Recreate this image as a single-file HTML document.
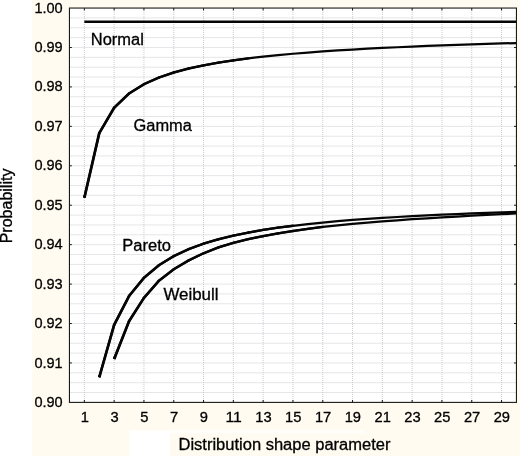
<!DOCTYPE html>
<html lang="en"><head><meta charset="utf-8"><title>Probability vs distribution shape parameter</title>
<style>html,body{margin:0;padding:0;background:#fff}svg{display:block}text{font-family:"Liberation Sans",Arial,Helvetica,sans-serif;fill:#000;stroke:#000;stroke-width:0.3px}</style></head><body>
<svg width="520" height="456" viewBox="0 0 520 456">
<rect x="0" y="0" width="520" height="456" fill="#fff"/>
<rect x="32" y="0" width="488" height="456" fill="#FFFBF0"/>
<rect x="129.5" y="430.3" width="40.5" height="25.7" fill="#fff"/>
<rect x="170" y="430.3" width="194.5" height="3.2" fill="#fffefb"/>
<rect x="69.45" y="8.05" width="447.00" height="394.35" fill="#fff"/>
<g stroke="#CCCCD0" stroke-width="1" stroke-dasharray="1 1"><line x1="69.45" x2="516.45" y1="392.54" y2="392.54"/><line x1="69.45" x2="516.45" y1="372.82" y2="372.82"/><line x1="69.45" x2="516.45" y1="353.11" y2="353.11"/><line x1="69.45" x2="516.45" y1="333.39" y2="333.39"/><line x1="69.45" x2="516.45" y1="313.67" y2="313.67"/><line x1="69.45" x2="516.45" y1="293.95" y2="293.95"/><line x1="69.45" x2="516.45" y1="274.24" y2="274.24"/><line x1="69.45" x2="516.45" y1="254.52" y2="254.52"/><line x1="69.45" x2="516.45" y1="234.80" y2="234.80"/><line x1="69.45" x2="516.45" y1="215.08" y2="215.08"/><line x1="69.45" x2="516.45" y1="195.37" y2="195.37"/><line x1="69.45" x2="516.45" y1="175.65" y2="175.65"/><line x1="69.45" x2="516.45" y1="155.93" y2="155.93"/><line x1="69.45" x2="516.45" y1="136.21" y2="136.21"/><line x1="69.45" x2="516.45" y1="116.50" y2="116.50"/><line x1="69.45" x2="516.45" y1="96.78" y2="96.78"/><line x1="69.45" x2="516.45" y1="77.06" y2="77.06"/><line x1="69.45" x2="516.45" y1="57.34" y2="57.34"/><line x1="69.45" x2="516.45" y1="37.63" y2="37.63"/><line x1="69.45" x2="516.45" y1="17.91" y2="17.91"/></g>
<g stroke="#C8C8D2" stroke-width="1" stroke-dasharray="1 1"><line x1="84.35" x2="84.35" y1="8.05" y2="402.40"/><line x1="114.15" x2="114.15" y1="8.05" y2="402.40"/><line x1="143.95" x2="143.95" y1="8.05" y2="402.40"/><line x1="173.75" x2="173.75" y1="8.05" y2="402.40"/><line x1="203.55" x2="203.55" y1="8.05" y2="402.40"/><line x1="233.35" x2="233.35" y1="8.05" y2="402.40"/><line x1="263.15" x2="263.15" y1="8.05" y2="402.40"/><line x1="292.95" x2="292.95" y1="8.05" y2="402.40"/><line x1="322.75" x2="322.75" y1="8.05" y2="402.40"/><line x1="352.55" x2="352.55" y1="8.05" y2="402.40"/><line x1="382.35" x2="382.35" y1="8.05" y2="402.40"/><line x1="412.15" x2="412.15" y1="8.05" y2="402.40"/><line x1="441.95" x2="441.95" y1="8.05" y2="402.40"/><line x1="471.75" x2="471.75" y1="8.05" y2="402.40"/><line x1="501.55" x2="501.55" y1="8.05" y2="402.40"/></g>
<g stroke="#CCCCD0" stroke-width="1" stroke-dasharray="1 1"><line x1="69.45" x2="516.45" y1="382.68" y2="382.68"/><line x1="69.45" x2="516.45" y1="362.96" y2="362.96"/><line x1="69.45" x2="516.45" y1="343.25" y2="343.25"/><line x1="69.45" x2="516.45" y1="323.53" y2="323.53"/><line x1="69.45" x2="516.45" y1="303.81" y2="303.81"/><line x1="69.45" x2="516.45" y1="284.09" y2="284.09"/><line x1="69.45" x2="516.45" y1="264.38" y2="264.38"/><line x1="69.45" x2="516.45" y1="244.66" y2="244.66"/><line x1="69.45" x2="516.45" y1="224.94" y2="224.94"/><line x1="69.45" x2="516.45" y1="205.22" y2="205.22"/><line x1="69.45" x2="516.45" y1="185.51" y2="185.51"/><line x1="69.45" x2="516.45" y1="165.79" y2="165.79"/><line x1="69.45" x2="516.45" y1="146.07" y2="146.07"/><line x1="69.45" x2="516.45" y1="126.36" y2="126.36"/><line x1="69.45" x2="516.45" y1="106.64" y2="106.64"/><line x1="69.45" x2="516.45" y1="86.92" y2="86.92"/><line x1="69.45" x2="516.45" y1="67.20" y2="67.20"/><line x1="69.45" x2="516.45" y1="47.49" y2="47.49"/><line x1="69.45" x2="516.45" y1="27.77" y2="27.77"/></g>
<g stroke="#1a1a1a" stroke-width="1"><line x1="69.45" x2="71.85" y1="362.96" y2="362.96"/><line x1="514.05" x2="516.45" y1="362.96" y2="362.96"/><line x1="69.45" x2="71.85" y1="323.53" y2="323.53"/><line x1="514.05" x2="516.45" y1="323.53" y2="323.53"/><line x1="69.45" x2="71.85" y1="284.09" y2="284.09"/><line x1="514.05" x2="516.45" y1="284.09" y2="284.09"/><line x1="69.45" x2="71.85" y1="244.66" y2="244.66"/><line x1="514.05" x2="516.45" y1="244.66" y2="244.66"/><line x1="69.45" x2="71.85" y1="205.22" y2="205.22"/><line x1="514.05" x2="516.45" y1="205.22" y2="205.22"/><line x1="69.45" x2="71.85" y1="165.79" y2="165.79"/><line x1="514.05" x2="516.45" y1="165.79" y2="165.79"/><line x1="69.45" x2="71.85" y1="126.36" y2="126.36"/><line x1="514.05" x2="516.45" y1="126.36" y2="126.36"/><line x1="69.45" x2="71.85" y1="86.92" y2="86.92"/><line x1="514.05" x2="516.45" y1="86.92" y2="86.92"/><line x1="69.45" x2="71.85" y1="47.49" y2="47.49"/><line x1="514.05" x2="516.45" y1="47.49" y2="47.49"/><line x1="84.35" x2="84.35" y1="400.00" y2="402.40"/><line x1="84.35" x2="84.35" y1="8.05" y2="10.45"/><line x1="114.15" x2="114.15" y1="400.00" y2="402.40"/><line x1="114.15" x2="114.15" y1="8.05" y2="10.45"/><line x1="143.95" x2="143.95" y1="400.00" y2="402.40"/><line x1="143.95" x2="143.95" y1="8.05" y2="10.45"/><line x1="173.75" x2="173.75" y1="400.00" y2="402.40"/><line x1="173.75" x2="173.75" y1="8.05" y2="10.45"/><line x1="203.55" x2="203.55" y1="400.00" y2="402.40"/><line x1="203.55" x2="203.55" y1="8.05" y2="10.45"/><line x1="233.35" x2="233.35" y1="400.00" y2="402.40"/><line x1="233.35" x2="233.35" y1="8.05" y2="10.45"/><line x1="263.15" x2="263.15" y1="400.00" y2="402.40"/><line x1="263.15" x2="263.15" y1="8.05" y2="10.45"/><line x1="292.95" x2="292.95" y1="400.00" y2="402.40"/><line x1="292.95" x2="292.95" y1="8.05" y2="10.45"/><line x1="322.75" x2="322.75" y1="400.00" y2="402.40"/><line x1="322.75" x2="322.75" y1="8.05" y2="10.45"/><line x1="352.55" x2="352.55" y1="400.00" y2="402.40"/><line x1="352.55" x2="352.55" y1="8.05" y2="10.45"/><line x1="382.35" x2="382.35" y1="400.00" y2="402.40"/><line x1="382.35" x2="382.35" y1="8.05" y2="10.45"/><line x1="412.15" x2="412.15" y1="400.00" y2="402.40"/><line x1="412.15" x2="412.15" y1="8.05" y2="10.45"/><line x1="441.95" x2="441.95" y1="400.00" y2="402.40"/><line x1="441.95" x2="441.95" y1="8.05" y2="10.45"/><line x1="471.75" x2="471.75" y1="400.00" y2="402.40"/><line x1="471.75" x2="471.75" y1="8.05" y2="10.45"/><line x1="501.55" x2="501.55" y1="400.00" y2="402.40"/><line x1="501.55" x2="501.55" y1="8.05" y2="10.45"/></g>
<g fill="none" stroke="#050505" stroke-linejoin="round"><polyline stroke-width="2.55" points="84.35,21.81 516.45,21.81"/><polyline stroke-width="2.25" points="84.35,197.78 99.25,133.14 114.15,107.74 129.05,93.51 143.95,84.20 158.85,77.54 173.75,72.50 188.65,68.52 203.55,65.28 218.45,62.58 233.35,60.30 248.25,58.33 263.15,56.61 278.05,55.09 292.95,53.75 307.85,52.54 322.75,51.45 337.65,50.46 352.55,49.55 367.45,48.72 382.35,47.96 397.25,47.25 412.15,46.59 427.05,45.98 441.95,45.41 456.85,44.87 471.75,44.37 486.65,43.89 501.55,43.45 516.45,43.02"/><line stroke-width="2.74" x1="84.35" y1="197.78" x2="84.88" y2="195.47"/><line stroke-width="2.74" stroke-linecap="round" x1="84.66" y1="196.45" x2="99.25" y2="133.14"/><line stroke-width="2.68" stroke-linecap="round" x1="99.25" y1="133.14" x2="114.15" y2="107.74"/><line stroke-width="2.60" stroke-linecap="round" x1="114.15" y1="107.74" x2="129.05" y2="93.51"/><line stroke-width="2.51" stroke-linecap="round" x1="129.05" y1="93.51" x2="143.95" y2="84.20"/><line stroke-width="2.45" stroke-linecap="round" x1="143.95" y1="84.20" x2="158.85" y2="77.54"/><line stroke-width="2.41" stroke-linecap="round" x1="158.85" y1="77.54" x2="173.75" y2="72.50"/><line stroke-width="2.38" stroke-linecap="round" x1="173.75" y1="72.50" x2="188.65" y2="68.52"/><line stroke-width="2.36" stroke-linecap="round" x1="188.65" y1="68.52" x2="203.55" y2="65.28"/><line stroke-width="2.34" stroke-linecap="round" x1="203.55" y1="65.28" x2="218.45" y2="62.58"/><line stroke-width="2.33" stroke-linecap="round" x1="218.45" y1="62.58" x2="233.35" y2="60.30"/><line stroke-width="2.32" stroke-linecap="round" x1="233.35" y1="60.30" x2="248.25" y2="58.33"/><polyline stroke-width="2.25" points="99.25,377.31 114.15,324.86 129.05,296.02 143.95,277.81 158.85,265.28 173.75,256.14 188.65,249.17 203.55,243.69 218.45,239.26 233.35,235.61 248.25,232.55 263.15,229.95 278.05,227.71 292.95,225.76 307.85,224.05 322.75,222.54 337.65,221.19 352.55,219.98 367.45,218.89 382.35,217.90 397.25,217.00 412.15,216.18 427.05,215.42 441.95,214.73 456.85,214.08 471.75,213.49 486.65,212.93 501.55,212.42 516.45,211.93"/><line stroke-width="2.73" x1="99.25" y1="377.31" x2="99.90" y2="375.03"/><line stroke-width="2.73" stroke-linecap="round" x1="99.62" y1="376.00" x2="114.15" y2="324.86"/><line stroke-width="2.69" stroke-linecap="round" x1="114.15" y1="324.86" x2="129.05" y2="296.02"/><line stroke-width="2.64" stroke-linecap="round" x1="129.05" y1="296.02" x2="143.95" y2="277.81"/><line stroke-width="2.57" stroke-linecap="round" x1="143.95" y1="277.81" x2="158.85" y2="265.28"/><line stroke-width="2.51" stroke-linecap="round" x1="158.85" y1="265.28" x2="173.75" y2="256.14"/><line stroke-width="2.46" stroke-linecap="round" x1="173.75" y1="256.14" x2="188.65" y2="249.17"/><line stroke-width="2.42" stroke-linecap="round" x1="188.65" y1="249.17" x2="203.55" y2="243.69"/><line stroke-width="2.39" stroke-linecap="round" x1="203.55" y1="243.69" x2="218.45" y2="239.26"/><line stroke-width="2.37" stroke-linecap="round" x1="218.45" y1="239.26" x2="233.35" y2="235.61"/><line stroke-width="2.35" stroke-linecap="round" x1="233.35" y1="235.61" x2="248.25" y2="232.55"/><line stroke-width="2.34" stroke-linecap="round" x1="248.25" y1="232.55" x2="263.15" y2="229.95"/><line stroke-width="2.32" stroke-linecap="round" x1="263.15" y1="229.95" x2="278.05" y2="227.71"/><line stroke-width="2.31" stroke-linecap="round" x1="278.05" y1="227.71" x2="292.95" y2="225.76"/><polyline stroke-width="2.25" points="114.15,359.02 129.05,321.16 143.95,297.90 158.85,280.78 173.75,269.27 188.65,260.43 203.55,253.26 218.45,247.38 233.35,242.85 248.25,239.14 263.15,236.10 278.05,233.36 292.95,231.01 307.85,228.85 322.75,226.93 337.65,225.27 352.55,223.78 367.45,222.52 382.35,221.36 397.25,220.26 412.15,219.24 427.05,218.27 441.95,217.38 456.85,216.53 471.75,215.74 486.65,214.93 501.55,214.17 516.45,213.48"/><line stroke-width="2.72" x1="114.15" y1="359.02" x2="115.01" y2="356.83"/><line stroke-width="2.72" stroke-linecap="round" x1="114.65" y1="357.76" x2="129.05" y2="321.16"/><line stroke-width="2.67" stroke-linecap="round" x1="129.05" y1="321.16" x2="143.95" y2="297.90"/><line stroke-width="2.63" stroke-linecap="round" x1="143.95" y1="297.90" x2="158.85" y2="280.78"/><line stroke-width="2.56" stroke-linecap="round" x1="158.85" y1="280.78" x2="173.75" y2="269.27"/><line stroke-width="2.50" stroke-linecap="round" x1="173.75" y1="269.27" x2="188.65" y2="260.43"/><line stroke-width="2.47" stroke-linecap="round" x1="188.65" y1="260.43" x2="203.55" y2="253.26"/><line stroke-width="2.43" stroke-linecap="round" x1="203.55" y1="253.26" x2="218.45" y2="247.38"/><line stroke-width="2.40" stroke-linecap="round" x1="218.45" y1="247.38" x2="233.35" y2="242.85"/><line stroke-width="2.37" stroke-linecap="round" x1="233.35" y1="242.85" x2="248.25" y2="239.14"/><line stroke-width="2.35" stroke-linecap="round" x1="248.25" y1="239.14" x2="263.15" y2="236.10"/><line stroke-width="2.34" stroke-linecap="round" x1="263.15" y1="236.10" x2="278.05" y2="233.36"/><line stroke-width="2.33" stroke-linecap="round" x1="278.05" y1="233.36" x2="292.95" y2="231.01"/><line stroke-width="2.32" stroke-linecap="round" x1="292.95" y1="231.01" x2="307.85" y2="228.85"/><line stroke-width="2.31" stroke-linecap="round" x1="307.85" y1="228.85" x2="322.75" y2="226.93"/></g>
<rect x="69.45" y="8.05" width="447.00" height="394.35" fill="none" stroke="#1a1a1a" stroke-width="1.1"/>
<text x="62.7" y="406.95" font-size="15" text-anchor="end" textLength="28.3" lengthAdjust="spacingAndGlyphs">0.90</text>
<text x="62.7" y="367.51" font-size="15" text-anchor="end" textLength="28.3" lengthAdjust="spacingAndGlyphs">0.91</text>
<text x="62.7" y="328.08" font-size="15" text-anchor="end" textLength="28.3" lengthAdjust="spacingAndGlyphs">0.92</text>
<text x="62.7" y="288.64" font-size="15" text-anchor="end" textLength="28.3" lengthAdjust="spacingAndGlyphs">0.93</text>
<text x="62.7" y="249.21" font-size="15" text-anchor="end" textLength="28.3" lengthAdjust="spacingAndGlyphs">0.94</text>
<text x="62.7" y="209.77" font-size="15" text-anchor="end" textLength="28.3" lengthAdjust="spacingAndGlyphs">0.95</text>
<text x="62.7" y="170.34" font-size="15" text-anchor="end" textLength="28.3" lengthAdjust="spacingAndGlyphs">0.96</text>
<text x="62.7" y="130.91" font-size="15" text-anchor="end" textLength="28.3" lengthAdjust="spacingAndGlyphs">0.97</text>
<text x="62.7" y="91.47" font-size="15" text-anchor="end" textLength="28.3" lengthAdjust="spacingAndGlyphs">0.98</text>
<text x="62.7" y="52.04" font-size="15" text-anchor="end" textLength="28.3" lengthAdjust="spacingAndGlyphs">0.99</text>
<text x="62.7" y="12.60" font-size="15" text-anchor="end" textLength="28.3" lengthAdjust="spacingAndGlyphs">1.00</text>
<text x="84.75" y="421.6" font-size="15" text-anchor="middle" textLength="8.17" lengthAdjust="spacingAndGlyphs">1</text>
<text x="114.55" y="421.6" font-size="15" text-anchor="middle" textLength="8.17" lengthAdjust="spacingAndGlyphs">3</text>
<text x="144.35" y="421.6" font-size="15" text-anchor="middle" textLength="8.17" lengthAdjust="spacingAndGlyphs">5</text>
<text x="174.15" y="421.6" font-size="15" text-anchor="middle" textLength="8.17" lengthAdjust="spacingAndGlyphs">7</text>
<text x="203.95" y="421.6" font-size="15" text-anchor="middle" textLength="8.17" lengthAdjust="spacingAndGlyphs">9</text>
<text x="233.65" y="421.6" font-size="15" text-anchor="middle" textLength="16.35" lengthAdjust="spacingAndGlyphs">11</text>
<text x="263.45" y="421.6" font-size="15" text-anchor="middle" textLength="16.35" lengthAdjust="spacingAndGlyphs">13</text>
<text x="293.25" y="421.6" font-size="15" text-anchor="middle" textLength="16.35" lengthAdjust="spacingAndGlyphs">15</text>
<text x="323.05" y="421.6" font-size="15" text-anchor="middle" textLength="16.35" lengthAdjust="spacingAndGlyphs">17</text>
<text x="352.85" y="421.6" font-size="15" text-anchor="middle" textLength="16.35" lengthAdjust="spacingAndGlyphs">19</text>
<text x="382.65" y="421.6" font-size="15" text-anchor="middle" textLength="16.35" lengthAdjust="spacingAndGlyphs">21</text>
<text x="412.45" y="421.6" font-size="15" text-anchor="middle" textLength="16.35" lengthAdjust="spacingAndGlyphs">23</text>
<text x="442.25" y="421.6" font-size="15" text-anchor="middle" textLength="16.35" lengthAdjust="spacingAndGlyphs">25</text>
<text x="472.05" y="421.6" font-size="15" text-anchor="middle" textLength="16.35" lengthAdjust="spacingAndGlyphs">27</text>
<text x="501.85" y="421.6" font-size="15" text-anchor="middle" textLength="16.35" lengthAdjust="spacingAndGlyphs">29</text>
<text x="90.8" y="45" font-size="16" textLength="53" lengthAdjust="spacingAndGlyphs">Normal</text>
<text x="133.6" y="130.5" font-size="16" textLength="58.3" lengthAdjust="spacingAndGlyphs">Gamma</text>
<text x="122.3" y="250.8" font-size="16" textLength="48.6" lengthAdjust="spacingAndGlyphs">Pareto</text>
<text x="163.4" y="300.4" font-size="16" textLength="55" lengthAdjust="spacingAndGlyphs">Weibull</text>
<text x="178.5" y="450.3" font-size="16" textLength="212" lengthAdjust="spacingAndGlyphs">Distribution shape parameter</text>
<text transform="translate(12.3 243.3) rotate(-90)" font-size="16">Probability</text>
</svg></body></html>
